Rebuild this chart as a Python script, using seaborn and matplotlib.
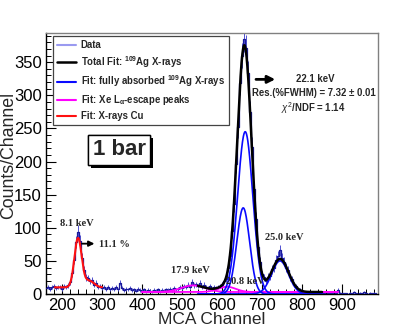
import numpy as np
import matplotlib
matplotlib.use("Agg")
import matplotlib.pyplot as plt
import matplotlib.patheffects as pe
from matplotlib.lines import Line2D
from matplotlib.ticker import MultipleLocator
import seaborn as sns

# --- spectrum: counts per channel, read every 5 channels ---
channels = list(range(160, 990, 5))
counts = [
    9, 11, 8, 10, 12, 9, 11, 10, 8, 12,
    11, 13, 18, 31, 52, 78, 94, 80, 55, 36,
    25, 24, 19, 21, 14, 17, 11, 12, 9, 11,
    8, 10, 7, 9, 8, 11, 7, 17, 9, 6,
    8, 7, 9, 6, 7, 5, 8, 6, 5, 7,
    4, 6, 5, 4, 6, 5, 7, 4, 6, 5,
    7, 6, 8, 6, 9, 7, 8, 10, 9, 12,
    10, 14, 11, 18, 13, 15, 12, 17, 11, 14,
    10, 9, 12, 8, 10, 9, 11, 12, 14, 19,
    23, 39, 57, 95, 136, 197, 252, 318, 360, 385,
    372, 334, 275, 222, 158, 113, 71, 49, 30, 25,
    20, 26, 27, 37, 40, 52, 58, 66, 55, 49,
    40, 36, 25, 22, 14, 12, 7, 6, 4, 3,
    2, 3, 1, 2, 1, 2, 0, 1, 2, 1,
    0, 1, 2, 1, 0, 1, 6, 2, 1, 1,
    1, 0, 2, 1, 3, 1, 0, 2, 1, 3,
    1, 0, 2, 1, 2, 1,
]

# --- fitted gaussians: (centre channel, sigma, height) ---
cu_base = 10
cu_peaks = [(240, 9, 74), (268, 12, 10)]
cu_range = (182, 300)

ag_peaks = [(658, 19, 245), (653, 16, 130), (745, 21, 50)]
ag_range = (540, 850)

xe_base = 3
xe_peaks = [(528, 30, 10), (612, 22, 8)]
xe_range = (400, 890)

total_range = (540, 850)


def gauss(x, mu, sig, h):
    return h * np.exp(-0.5 * ((x - mu) / sig) ** 2)


sns.set_theme(style="ticks")
plt.rcParams["font.family"] = ["Liberation Sans", "DejaVu Sans"]
plt.rcParams["mathtext.fontset"] = "custom"
plt.rcParams["mathtext.rm"] = "Liberation Sans"
plt.rcParams["mathtext.it"] = "Liberation Sans:italic"
plt.rcParams["mathtext.bf"] = "Liberation Sans:bold"

fig = plt.figure(figsize=(4.16, 3.27), dpi=100)
ax = fig.add_axes([0.1106, 0.1009, 0.7981, 0.7982])

# data with poisson error bars
cnt = np.array(counts, dtype=float)
ax.vlines(channels, cnt - np.sqrt(cnt), cnt + np.sqrt(cnt), colors="#5050d0", lw=0.7, zorder=2)
sns.lineplot(x=channels, y=counts, drawstyle="steps-mid", color="#1a1a9a", lw=0.9, ax=ax, zorder=3)

# Cu fit
xc = np.linspace(*cu_range, 300)
yc = cu_base + sum(gauss(xc, *p) for p in cu_peaks)
sns.lineplot(x=xc, y=yc, color="#ff1010", lw=1.5, ax=ax, zorder=5)

# Xe escape peaks
xx = np.linspace(*xe_range, 400)
for p in xe_peaks:
    sns.lineplot(x=xx, y=xe_base + gauss(xx, *p), color="#ff00ff", lw=1.3, ax=ax, zorder=4)

# Ag components
xa = np.linspace(*ag_range, 400)
for p in ag_peaks:
    sns.lineplot(x=xa, y=gauss(xa, *p), color="#0a0aff", lw=1.2, ax=ax, zorder=5)

# total fit
xt = np.linspace(*total_range, 400)
yt = xe_base + sum(gauss(xt, *p) for p in xe_peaks) + sum(gauss(xt, *p) for p in ag_peaks)
sns.lineplot(x=xt, y=yt, color="black", lw=1.8, ax=ax, zorder=6)

ax.set_xlim(160, 990)
ax.set_ylim(0, 394)
ax.xaxis.set_major_locator(MultipleLocator(100))
ax.xaxis.set_minor_locator(MultipleLocator(20))
ax.yaxis.set_major_locator(MultipleLocator(50))
ax.yaxis.set_minor_locator(MultipleLocator(10))
ax.tick_params(which="both", direction="in", top=False, right=False, labelsize=12, colors="black")
ax.tick_params(which="major", length=7, width=0.8, pad=3)
ax.tick_params(which="minor", length=3.5, width=0.7)
for s in ["left", "bottom"]:
    ax.spines[s].set_color("black")
    ax.spines[s].set_linewidth(1.0)
for s in ["top", "right"]:
    ax.spines[s].set_color("#808080")
    ax.spines[s].set_linewidth(1.0)

ax.set_xlabel("MCA Channel", fontsize=12.5, va="center")
ax.set_ylabel("Counts/Channel", fontsize=12.8, va="center")
ax.xaxis.set_label_coords(0.5, -0.097)
ax.yaxis.set_label_coords(-0.112, 0.53)

# legend
handles = [
    Line2D([], [], color="#9a9af0", lw=1.5),
    Line2D([], [], color="black", lw=1.8),
    Line2D([], [], color="#0a0aff", lw=1.5),
    Line2D([], [], color="#ff00ff", lw=1.5),
    Line2D([], [], color="#ff1010", lw=1.5),
]
labels = [
    "Data",
    r"Total Fit: $\mathbf{^{109}}$Ag X-rays",
    r"Fit: fully absorbed $\mathbf{^{109}}$Ag X-rays",
    r"Fit: Xe L$_{\mathbf{\alpha}}$-escape peaks",
    "Fit: X-rays Cu",
]
leg = ax.legend(handles, labels, loc="upper left", bbox_to_anchor=(0.021, 0.988),
                borderaxespad=0, prop={"size": 6.9, "weight": "bold"}, handlelength=2.0,
                handletextpad=0.5, labelspacing=0.4, borderpad=0.4, fancybox=False,
                framealpha=1, edgecolor="#444444")
leg.get_frame().set_linewidth(0.9)

# "1 bar" box
t = ax.text(0.22, 0.552, "1 bar", transform=ax.transAxes, fontsize=16, fontweight="bold",
            ha="center", va="center",
            bbox=dict(boxstyle="square,pad=0.2", fc="white", ec="black", lw=1.0))
t.get_bbox_patch().set_path_effects([
    pe.withSimplePatchShadow(offset=(2, -2), shadow_rgbFace="black", alpha=1), pe.Normal()])

# main peak annotation
ax.annotate("", xy=(740, 324), xytext=(678, 324),
            arrowprops=dict(arrowstyle="-|>", lw=2, color="black", mutation_scale=11))
ax.text(832, 325, "22.1 keV", fontsize=6.9, fontweight="bold", ha="center", va="center")
ax.text(830, 303, "Res.(%FWHM) = 7.32 ± 0.01", fontsize=6.9, fontweight="bold", ha="center", va="center")
ax.text(827, 280, r"$\chi^{2}$/NDF = 1.14", fontsize=6.9, fontweight="bold", ha="center", va="center")

# Cu peak annotation
serif = ["Liberation Serif", "DejaVu Serif"]
ax.text(237, 107, "8.1 keV", family=serif, fontsize=7.5, fontweight="bold", ha="center", va="center")
ax.annotate("", xy=(288, 76), xytext=(243, 76),
            arrowprops=dict(arrowstyle="-|>", lw=1.3, color="black", mutation_scale=8))
ax.text(332, 74, "11.1 %", family=serif, fontsize=7.5, fontweight="bold", ha="center", va="center")

# other peak labels
ax.text(522, 36, "17.9 keV", family=serif, fontsize=7.5, fontweight="bold", ha="center", va="center", zorder=7)
ax.text(657, 19, "20.8 keV", family=serif, fontsize=7.5, fontweight="bold", ha="center", va="center", zorder=7)
ax.text(755, 85, "25.0 keV", family=serif, fontsize=7.5, fontweight="bold", ha="center", va="center", zorder=7)

fig.savefig("out.png", dpi=100)
